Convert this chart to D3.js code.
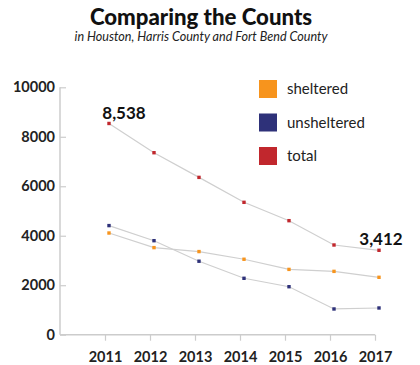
<!DOCTYPE html>
<html><head><meta charset="utf-8">
<script src="https://cdn.jsdelivr.net/npm/d3@7"></script>
<style>body{margin:0;background:#fff}svg{display:block}</style>
</head><body>
<script>
const years = [2011, 2012, 2013, 2014, 2015, 2016, 2017];
const sheltered = [4110, 3520, 3360, 3050, 2640, 2560, 2320];
const unsheltered = [4410, 3800, 2970, 2280, 1940, 1040, 1080];
const total = [8538, 7356, 6359, 5351, 4609, 3626, 3412];
const yTicks = [0, 2000, 4000, 6000, 8000, 10000];
const seriesNames = ["sheltered", "unsheltered", "total"];
const seriesColors = ["#f7941d", "#2e3179", "#c1272d"];

const W = 420, H = 365;
const svg = d3.select("body").append("svg").attr("width", W).attr("height", H);

const x = d3.scalePoint().domain(years).range([105, 375]);
const y = d3.scaleLinear().domain([0, 10000]).range([334.7, 87.3]);
const pointShift = 4;

svg.append("text").attr("x", 201).attr("y", 24.5).attr("text-anchor", "middle")
  .attr("font-family", "Lato").attr("font-weight", 900).attr("font-size", 22.2)
  .attr("fill", "#111").text("Comparing the Counts");
svg.append("text").attr("x", 201).attr("y", 41).attr("text-anchor", "middle")
  .attr("font-family", "Lato").attr("font-style", "italic").attr("font-size", 12.6)
  .attr("fill", "#222").text("in Houston, Harris County and Fort Bend County");

// y axis
const yAxis = svg.append("g").attr("transform", "translate(60,0)")
  .call(d3.axisRight(y).tickValues(yTicks).tickFormat(d3.format("d")).tickSize(6));
yAxis.select(".domain").attr("stroke", "#ccc").attr("stroke-width", 1.5)
  .attr("d", `M0,${y(10000)}V${y(0)}`);
yAxis.selectAll(".tick line").attr("stroke", "#ccc").attr("stroke-width", 1.2);
yAxis.selectAll(".tick text").attr("x", -5).attr("text-anchor", "end")
  .attr("font-family", "Lato").attr("font-weight", 700).attr("font-size", 14.5).attr("fill", "#222");

// x axis
const xAxis = svg.append("g").attr("transform", `translate(0,${y(0)})`)
  .call(d3.axisBottom(x).tickSize(6).tickSizeOuter(0));
xAxis.select(".domain").attr("stroke", "#ccc").attr("stroke-width", 1.5)
  .attr("d", `M60,0H${x(2017)}`);
xAxis.selectAll(".tick line").attr("stroke", "#ccc").attr("stroke-width", 1.2);
xAxis.selectAll(".tick text").attr("dy", "1.25em")
  .attr("font-family", "Lato").attr("font-weight", 700).attr("font-size", 14.5).attr("fill", "#222");

const allSeries = [sheltered, unsheltered, total];
const line = d3.line().x((d, i) => x(years[i]) + pointShift).y(d => y(d));
allSeries.forEach((vals, k) => {
  svg.append("path").attr("d", line(vals)).attr("fill", "none")
    .attr("stroke", "#cfcfcf").attr("stroke-width", 1.2);
});
allSeries.forEach((vals, k) => {
  svg.append("g").selectAll("rect").data(vals).join("rect")
    .attr("x", (d, i) => x(years[i]) + pointShift - 1.7)
    .attr("y", d => y(d) - 1.7)
    .attr("width", 3.4).attr("height", 3.4)
    .attr("fill", seriesColors[k]);
});

// annotations
const fmt = d3.format(",");
svg.append("text").attr("x", x(years[0]) + pointShift + 15).attr("y", y(total[0]) - 4)
  .attr("text-anchor", "middle").attr("font-family", "Lato").attr("font-weight", 700)
  .attr("font-size", 17).attr("fill", "#111").text(fmt(total[0]));
svg.append("text").attr("x", x(years[6]) + pointShift + 2).attr("y", y(total[6]) - 5)
  .attr("text-anchor", "middle").attr("font-family", "Lato").attr("font-weight", 700)
  .attr("font-size", 17).attr("fill", "#111").text(fmt(total[6]));

// legend
const leg = svg.append("g").selectAll("g").data(seriesNames).join("g")
  .attr("transform", (d, i) => `translate(259,${80 + i * 33.5})`);
leg.append("rect").attr("width", 18).attr("height", 18).attr("fill", (d, i) => seriesColors[i]);
leg.append("text").attr("x", 28).attr("y", 14).attr("font-family", "Lato")
  .attr("font-size", 15).attr("fill", "#222").text(d => d);
</script>
</body></html>
